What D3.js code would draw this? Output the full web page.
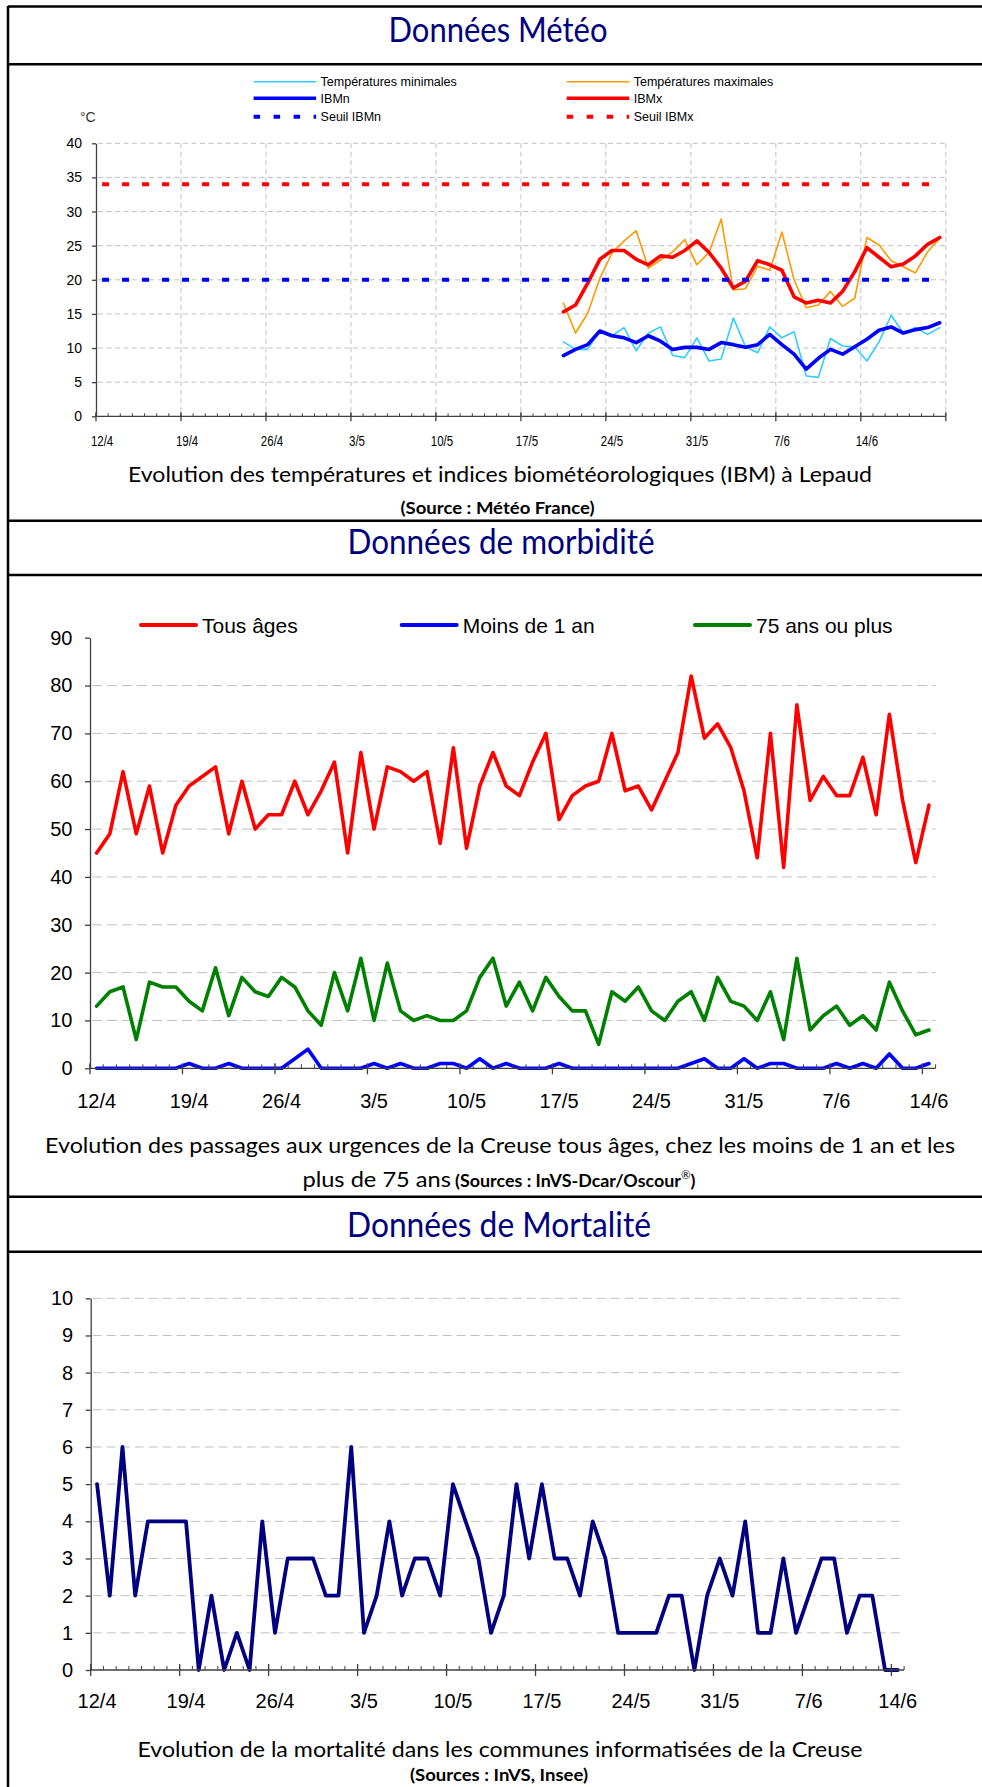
<!DOCTYPE html>
<html>
<head>
<meta charset="utf-8">
<script src="https://cdn.jsdelivr.net/npm/d3@7"></script>
<style>
  html, body { margin: 0; padding: 0; background: #fff; }
  svg { display: block; }
</style>
</head>
<body>
<svg id="page" width="982" height="1787"></svg>
<script>
// ---- categories (one per day) and tick labels
const fmtDay = d3.timeFormat('%-d/%-m');
const joursMeteo = d3.timeDay.range(new Date(2011, 3, 12), new Date(2011, 5, 21)).map(fmtDay); // 12/4 -> 20/6
const jours = joursMeteo.slice(0, 64); // 12/4 -> 14/6
const weekLabels = ['12/4', '19/4', '26/4', '3/5', '10/5', '17/5', '24/5', '31/5', '7/6', '14/6'];

// ---- meteo (Lepaud), data from 20/5 to 20/6
const meteoJours = joursMeteo.slice(38);
const tMin = [10.9, 9.8, 9.8, 12.5, 11.8, 13.0, 9.6, 12.2, 13.1, 8.9, 8.6, 11.5, 8.1, 8.4, 14.4, 10.2,
  9.3, 13.1, 11.5, 12.4, 5.9, 5.7, 11.4, 10.3, 10.2, 8.1, 10.9, 14.8, 12.2, 13.0, 12.0, 13.0];
const tMax = [16.6, 12.2, 15.1, 20.2, 23.9, 25.7, 27.2, 21.7, 22.9, 24.1, 25.9, 22.2, 24.0, 28.9, 18.5, 18.7,
  22.0, 21.4, 27.0, 20.0, 15.9, 16.3, 18.3, 16.1, 17.3, 26.2, 25.1, 22.8, 21.9, 21.0, 24.1, 26.1];
const ibmN = [8.9, 9.8, 10.5, 12.5, 11.8, 11.5, 10.8, 11.8, 11.0, 9.8, 10.1, 10.1, 9.8, 10.8, 10.5, 10.1,
  10.5, 12.0, 10.5, 9.1, 6.9, 8.5, 9.8, 9.1, 10.2, 11.3, 12.6, 13.1, 12.2, 12.7, 13.0, 13.7];
const ibmX = [15.3, 16.3, 19.5, 23.0, 24.3, 24.3, 23.0, 22.2, 23.5, 23.3, 24.3, 25.7, 24.0, 21.7, 18.8, 19.8,
  22.8, 22.2, 21.4, 17.5, 16.6, 17.0, 16.6, 18.3, 21.2, 24.7, 23.3, 21.9, 22.3, 23.5, 25.2, 26.2];
const seuilN = 20;
const seuilX = 34;

// ---- morbidite (passages aux urgences), 12/4 -> 14/6
const tousAges = [45, 49, 62, 49, 59, 45, 55, 59, 61, 63, 49, 60, 50, 53, 53, 60, 53, 58, 64, 45, 66, 50, 63, 62,
  60, 62, 47, 67, 46, 59, 66, 59, 57, 64, 70, 52, 57, 59, 60, 70, 58, 59, 54, 60, 66, 82, 69, 72, 67, 58,
  44, 70, 42, 76, 56, 61, 57, 57, 65, 53, 74, 56, 43, 55];
const moins1an = [0, 0, 0, 0, 0, 0, 0, 1, 0, 0, 1, 0, 0, 0, 0, 2, 4, 0, 0, 0, 0, 1, 0, 1, 0, 0, 1, 1, 0, 2,
  0, 1, 0, 0, 0, 1, 0, 0, 0, 0, 0, 0, 0, 0, 0, 1, 2, 0, 0, 2, 0, 1, 1, 0, 0, 0, 1, 0, 1, 0, 3, 0, 0, 1];
const plus75 = [13, 16, 17, 6, 18, 17, 17, 14, 12, 21, 11, 19, 16, 15, 19, 17, 12, 9, 20, 12, 23, 10, 22, 12,
  10, 11, 10, 10, 12, 19, 23, 13, 18, 12, 19, 15, 12, 12, 5, 16, 14, 17, 12, 10, 14, 16, 10, 19, 14, 13,
  10, 16, 6, 23, 8, 11, 13, 9, 11, 8, 18, 12, 7, 8];

// ---- mortalite, 12/4 -> 14/6
const deces = [5, 2, 6, 2, 4, 4, 4, 4, 0, 2, 0, 1, 0, 4, 1, 3, 3, 3, 2, 2, 6, 1, 2, 4, 2, 3, 3, 2, 5, 4,
  3, 1, 2, 5, 3, 5, 3, 3, 2, 4, 3, 1, 1, 1, 1, 2, 2, 0, 2, 3, 2, 4, 1, 1, 3, 1, 2, 3, 3, 1, 2, 2, 0, 0];

const svg = d3.select('#page');
const axisColor = '#404040';
const gridColor = '#c0c0c0';
const arial = '"Liberation Sans", Arial, sans-serif';
const calibri = 'Lato, "Open Sans", sans-serif';

// ---------- frame and headings
const frame = svg.append('g').attr('stroke', '#000').attr('stroke-width', 2.5);
frame.append('line').attr('x1', 8).attr('x2', 8).attr('y1', 6).attr('y2', 1787);
[6.5, 64.3, 520.7, 575, 1196.7, 1251.7].forEach(y => {
  frame.append('line').attr('x1', 8).attr('x2', 982).attr('y1', y).attr('y2', y);
});

function fitText(x, y, txt, opts) {
  const t = svg.append('text')
    .attr('x', x).attr('y', y)
    .attr('text-anchor', opts.anchor || 'middle')
    .attr('font-family', opts.family || calibri)
    .attr('font-size', opts.size)
    .attr('font-weight', opts.weight || 'normal')
    .attr('fill', opts.fill || '#000')
    .text(txt);
  if (opts.width) t.attr('textLength', opts.width).attr('lengthAdjust', 'spacingAndGlyphs');
  return t;
}

fitText(498, 42, 'Données Météo', { size: 35, width: 219, fill: '#000080' });
fitText(501, 554, 'Données de morbidité', { size: 35, width: 307, fill: '#000080' });
fitText(499, 1237, 'Données de Mortalité', { size: 35, width: 304, fill: '#000080' });

fitText(500, 482, 'Evolution des températures et indices biométéorologiques (IBM) à Lepaud', { size: 22, width: 744 });
fitText(497.5, 514, '(Source : Météo France)', { size: 17, width: 194, weight: 'bold' });

fitText(45, 1153, 'Evolution des passages aux urgences de la Creuse tous âges, chez les moins de 1 an et les',
  { size: 22, width: 910, anchor: 'start' });
fitText(302.4, 1187, 'plus de 75 ans', { size: 22, width: 148.6, anchor: 'start' });
const src2 = svg.append('text').attr('x', 455).attr('y', 1187)
  .attr('font-family', calibri).attr('font-weight', 'bold').attr('font-size', 17);
src2.append('tspan').text('(Sources : InVS-Dcar/Oscour');
src2.append('tspan').attr('dy', -8).attr('font-size', 11).attr('font-weight', 'normal').text('®');
src2.append('tspan').attr('dy', 8).text(')');
{
  const w = src2.node().getBBox().width;
  src2.attr('transform', `translate(455,1187) scale(${241 / w},1) translate(-455,-1187)`);
}

fitText(500, 1757, 'Evolution de la mortalité dans les communes informatisées de la Creuse', { size: 22, width: 725 });
fitText(499, 1781, '(Sources : InVS, Insee)', { size: 17, width: 178, weight: 'bold' });

// ---------- helpers
function condense(sel, factor) {
  sel.each(function () {
    const w = this.getComputedTextLength();
    d3.select(this).attr('textLength', w * factor).attr('lengthAdjust', 'spacingAndGlyphs');
  });
}

function bottomAxis(g, x, y0, o) {
  const [x0, x1] = x.range();
  const bounds = x.domain().map(d => x(d)).concat([x1]);
  const majors = weekLabels.map(d => x(d)).concat(o.endMajor ? [x1] : []);
  g.append('line').attr('x1', x0).attr('x2', x1).attr('y1', y0).attr('y2', y0)
    .attr('stroke', axisColor).attr('stroke-width', 1.3);
  g.append('g').selectAll('line').data(bounds).join('line')
    .attr('x1', d => d).attr('x2', d => d)
    .attr('y1', y0 - o.minor).attr('y2', y0)
    .attr('stroke', axisColor).attr('stroke-width', 1);
  g.append('g').selectAll('line').data(majors).join('line')
    .attr('x1', d => d).attr('x2', d => d)
    .attr('y1', y0 - o.major[0]).attr('y2', y0 + o.major[1])
    .attr('stroke', axisColor).attr('stroke-width', 1.3);
  const lab = g.append('g').attr('transform', `translate(0,${y0})`)
    .call(d3.axisBottom(x).tickValues(weekLabels).tickSize(0).tickPadding(o.pad));
  lab.select('.domain').remove();
  lab.attr('font-family', arial).attr('font-size', o.fs);
  lab.selectAll('text').attr('fill', '#000');
  return lab;
}

function leftAxis(g, y, x0, o) {
  const ax = g.append('g').attr('transform', `translate(${x0},0)`)
    .call(d3.axisLeft(y).tickValues(o.ticks).tickSize(o.tick).tickPadding(o.pad).tickSizeOuter(0));
  ax.attr('font-family', arial).attr('font-size', o.fs);
  ax.select('.domain').attr('stroke', axisColor).attr('stroke-width', 1.3);
  ax.selectAll('.tick line').attr('stroke', axisColor).attr('stroke-width', 1.3);
  ax.selectAll('text').attr('fill', '#000');
  return ax;
}

function hGrid(g, y, x, values, dash) {
  const [x0, x1] = x.range();
  g.append('g').selectAll('line').data(values).join('line')
    .attr('x1', x0 + 2).attr('x2', x1)
    .attr('y1', d => y(d)).attr('y2', d => y(d))
    .attr('stroke', gridColor).attr('stroke-width', 1).attr('stroke-dasharray', dash);
}

function series(g, x, y, cats, vals, color, width, dash) {
  const line = d3.line().x(d => x(d[0]) + x.bandwidth() / 2).y(d => y(d[1]));
  const p = g.append('path')
    .datum(d3.zip(cats, vals))
    .attr('d', line)
    .attr('fill', 'none')
    .attr('stroke', color)
    .attr('stroke-width', width)
    .attr('stroke-linejoin', 'round')
    .attr('stroke-linecap', dash ? 'butt' : 'round');
  if (dash) p.attr('stroke-dasharray', dash);
  return p;
}

// ---------- meteo chart
{
  const g = svg.append('g');
  const x = d3.scaleBand().domain(joursMeteo).range([96, 945.8]).padding(0);
  const y = d3.scaleLinear().domain([0, 40]).range([416.3, 143.3]);

  hGrid(g, y, x, d3.range(5, 41, 5), '5 3.5');
  const vlines = weekLabels.slice(1).map(d => x(d)).concat([x.range()[1]]);
  g.append('g').selectAll('line').data(vlines).join('line')
    .attr('x1', d => d).attr('x2', d => d)
    .attr('y1', y(40)).attr('y2', y(0) - 3)
    .attr('stroke', gridColor).attr('stroke-width', 1).attr('stroke-dasharray', '5 3.5');

  series(g, x, y, meteoJours, tMin, '#33ccff', 1.6);
  series(g, x, y, meteoJours, tMax, '#ff9900', 1.6);
  series(g, x, y, meteoJours, ibmN, '#0000ff', 3.6);
  series(g, x, y, meteoJours, ibmX, '#ff0000', 3.6);
  const ends = [joursMeteo[0], joursMeteo[joursMeteo.length - 1]];
  series(g, x, y, ends, [seuilN, seuilN], '#0000ff', 4, '7 13');
  series(g, x, y, ends, [seuilX, seuilX], '#ff0000', 4, '7 13');

  leftAxis(g, y, 96, { ticks: d3.range(0, 41, 5), tick: 4, pad: 10, fs: 14 });
  const lab = bottomAxis(g, x, y(0), { minor: 3, major: [4, 5], pad: 20, fs: 14, endMajor: true });
  condense(lab.selectAll('text'), 0.82);

  g.append('text').attr('x', 80).attr('y', 122).attr('font-family', arial)
    .attr('font-size', 14).attr('fill', '#333').text('°C');

  // legend
  const leg = [
    { label: 'Températures minimales', color: '#33ccff', w: 1.6, col: 0, row: 0 },
    { label: 'Températures maximales', color: '#ff9900', w: 1.6, col: 1, row: 0 },
    { label: 'IBMn', color: '#0000ff', w: 3.6, col: 0, row: 1 },
    { label: 'IBMx', color: '#ff0000', w: 3.6, col: 1, row: 1 },
    { label: 'Seuil IBMn', color: '#0000ff', w: 4, col: 0, row: 2, dash: '6.5 13.5' },
    { label: 'Seuil IBMx', color: '#ff0000', w: 4, col: 1, row: 2, dash: '6.5 13.5' }
  ];
  const colX = [253.6, 566.7];
  const rowY = [81.7, 98.3, 116.7];
  leg.forEach(d => {
    const lx = colX[d.col], ly = rowY[d.row];
    const l = g.append('line').attr('x1', lx).attr('x2', lx + 62.5).attr('y1', ly).attr('y2', ly)
      .attr('stroke', d.color).attr('stroke-width', d.w);
    if (d.dash) l.attr('stroke-dasharray', d.dash);
    g.append('text').attr('x', lx + 67).attr('y', ly + 4.3)
      .attr('font-family', arial).attr('font-size', 12.5).attr('fill', '#000').text(d.label);
  });
}

// ---------- morbidite chart
{
  const g = svg.append('g');
  const x = d3.scaleBand().domain(jours).range([90, 935.6]).padding(0);
  const y = d3.scaleLinear().domain([0, 90]).range([1068.3, 637.7]);

  hGrid(g, y, x, d3.range(10, 81, 10), '10 5');
  series(g, x, y, jours, tousAges, '#ff0000', 3.6);
  series(g, x, y, jours, moins1an, '#0000ff', 3.6);
  series(g, x, y, jours, plus75, '#008000', 3.6);

  leftAxis(g, y, 90, { ticks: d3.range(0, 91, 10), tick: 5, pad: 12.5, fs: 20 });
  bottomAxis(g, x, y(0), { minor: 4, major: [5, 6], pad: 25.5, fs: 20 });

  const leg = [
    { label: 'Tous âges', color: '#ff0000', x: 141 },
    { label: 'Moins de 1 an', color: '#0000ff', x: 401.7 },
    { label: '75 ans ou plus', color: '#008000', x: 695 }
  ];
  leg.forEach(d => {
    g.append('line').attr('x1', d.x).attr('x2', d.x + 55).attr('y1', 625).attr('y2', 625)
      .attr('stroke', d.color).attr('stroke-width', 4).attr('stroke-linecap', 'round');
    g.append('text').attr('x', d.x + 61).attr('y', 632.5)
      .attr('font-family', arial).attr('font-size', 21).attr('fill', '#000').text(d.label);
  });
}

// ---------- mortalite chart
{
  const g = svg.append('g');
  const x = d3.scaleBand().domain(jours).range([90.7, 904.1]).padding(0);
  const y = d3.scaleLinear().domain([0, 10]).range([1670, 1298.3]);

  hGrid(g, y, x, d3.range(1, 11), '9 5');
  series(g, x, y, jours, deces, '#000080', 3.8);

  leftAxis(g, y, 90.7, { ticks: d3.range(0, 11), tick: 5, pad: 12.5, fs: 20 });
  bottomAxis(g, x, y(0), { minor: 4, major: [6, 6], pad: 23.8, fs: 20 });
}
</script>
</body>
</html>
